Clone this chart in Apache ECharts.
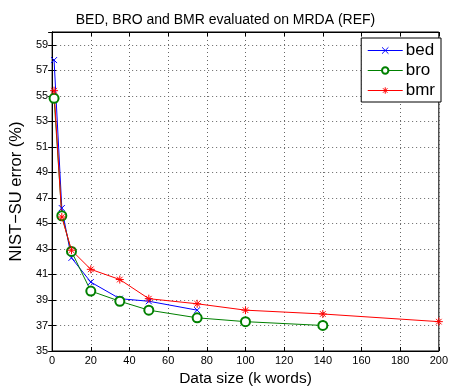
<!DOCTYPE html>
<html>
<head>
<meta charset="utf-8">
<script src="https://cdn.jsdelivr.net/npm/echarts@6/dist/echarts.min.js"></script>
<style>html,body{margin:0;padding:0;background:#fff;}#c{width:451px;height:392px;}</style>
</head>
<body>
<div id="c"></div>
<script>
const bedX = [1, 5, 10, 20, 35, 50, 75];
const bedY = [57.8, 46.2, 42.3, 40.4, 39.1, 38.9, 38.2];
const broX = [1, 5, 10, 20, 35, 50, 75, 100, 140];
const broY = [54.8, 45.6, 42.8, 39.7, 38.9, 38.2, 37.6, 37.3, 37.0];
const bmrX = [1, 5, 10, 20, 35, 50, 75, 100, 140, 200];
const bmrY = [55.4, 45.5, 42.9, 41.4, 40.6, 39.1, 38.7, 38.2, 37.9, 37.3];
const seriesNames = ['bed', 'bro', 'bmr'];
const titleText = 'BED, BRO and BMR evaluated on MRDA (REF)';
const xLabel = 'Data size (k words)';
const yLabel = 'NIST\u2212SU error (%)';

const pair = (xs, ys) => xs.map((x, i) => [x, ys[i]]);
const crossSym = 'path://M0,0L10,10M10,0L0,10';
const starSym = 'path://M5,0L5,10M0,5L10,5M1.5,1.5L8.5,8.5M8.5,1.5L1.5,8.5';
const font = 'Liberation Sans, Arial, sans-serif';
const splitDot = {show: true, lineStyle: {color: '#666', width: 1, type: [1, 3]}};

const chart = echarts.init(document.getElementById('c'), null, {renderer: 'canvas'});
chart.setOption({
  animation: false,
  backgroundColor: '#fff',
  textStyle: {fontFamily: font},
  title: {text: titleText, left: 'center', top: 8,
    textStyle: {fontSize: 14, fontWeight: 'normal', color: '#000', fontFamily: font}},
  grid: {left: 49, right: 10, top: 32, bottom: 40, containLabel: false,
    show: true, borderColor: '#000', borderWidth: 1},
  legend: {
    data: seriesNames, orient: 'vertical', right: 10, top: 38,
    backgroundColor: '#fff', borderColor: '#000', borderWidth: 1,
    padding: [4, 6, 3, 6], itemGap: 3, itemWidth: 35, itemHeight: 8,
    lineStyle: {width: 1},
    itemStyle: {borderWidth: 1},
    textStyle: {fontSize: 17, color: '#000', fontFamily: font, padding: [0, 0, 0, -2]}
  },
  xAxis: [{
    type: 'value', min: 0, max: 200, interval: 20, position: 'bottom',
    name: xLabel, nameLocation: 'middle', nameGap: 20,
    nameTextStyle: {fontSize: 15.5, color: '#000', fontFamily: font},
    axisLine: {show: true, lineStyle: {color: '#000', width: 1}},
    axisTick: {show: true, inside: true, length: 4, lineStyle: {color: '#000'}},
    axisLabel: {fontSize: 11, color: '#000', margin: 4, fontFamily: font},
    splitLine: splitDot
  }, {
    type: 'value', min: 0, max: 200, interval: 20, position: 'top',
    axisLine: {show: true, lineStyle: {color: '#000', width: 1}},
    axisTick: {show: true, inside: true, length: 4, lineStyle: {color: '#000'}},
    axisLabel: {show: false}, splitLine: {show: false}
  }],
  yAxis: [{
    type: 'value', min: 35, max: 60, interval: 2, position: 'left',
    name: yLabel, nameLocation: 'middle', nameGap: 22, nameRotate: 90,
    nameTextStyle: {fontSize: 16.5, color: '#000', fontFamily: font},
    axisLine: {show: true, lineStyle: {color: '#000', width: 1}},
    axisTick: {show: true, inside: true, length: 4, lineStyle: {color: '#000'}},
    axisLabel: {fontSize: 11, color: '#000', margin: 4, showMaxLabel: false, fontFamily: font},
    splitLine: splitDot
  }, {
    type: 'value', min: 35, max: 60, interval: 2, position: 'right',
    axisLine: {show: true, lineStyle: {color: '#000', width: 1}},
    axisTick: {show: true, inside: true, length: 4, lineStyle: {color: '#000'}},
    axisLabel: {show: false}, splitLine: {show: false}
  }],
  series: [{
    name: seriesNames[0], type: 'line', data: pair(bedX, bedY),
    symbol: crossSym, symbolSize: 6,
    lineStyle: {color: '#0000ff', width: 1},
    itemStyle: {color: '#0000ff', borderColor: '#0000ff', borderWidth: 1}
  }, {
    name: seriesNames[1], type: 'line', data: pair(broX, broY),
    symbol: 'emptyCircle', symbolSize: 9,
    lineStyle: {color: '#008000', width: 1},
    itemStyle: {color: '#008000', borderColor: '#008000', borderWidth: 1}
  }, {
    name: seriesNames[2], type: 'line', data: pair(bmrX, bmrY),
    symbol: starSym, symbolSize: 8,
    lineStyle: {color: '#ff0000', width: 1},
    itemStyle: {color: '#ff0000', borderColor: '#ff0000', borderWidth: 1}
  }]
});
</script>
</body>
</html>
